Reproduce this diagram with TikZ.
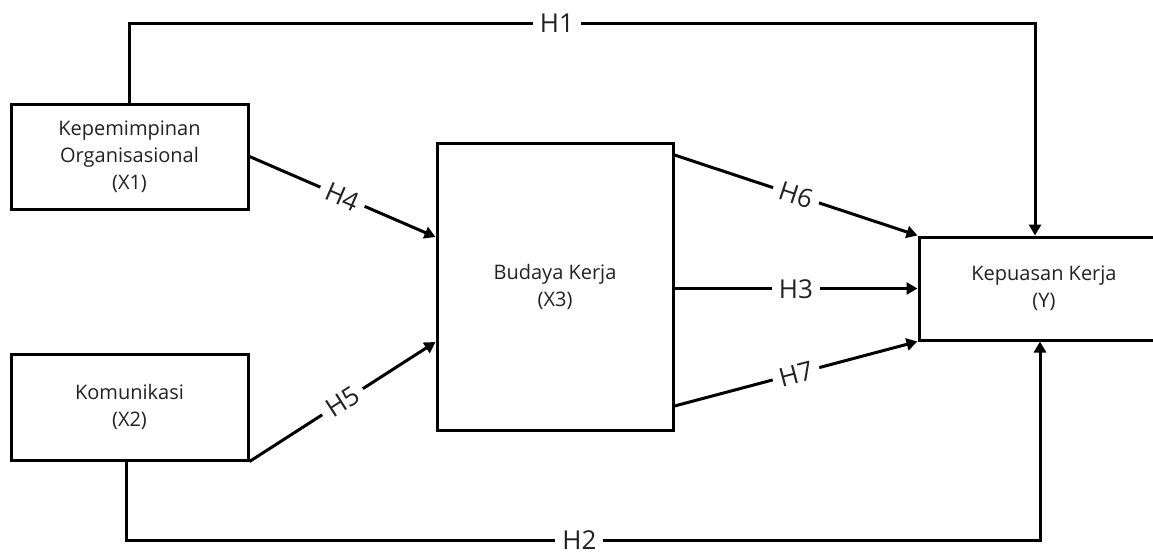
\documentclass[tikz,border=0pt]{standalone}
\usepackage{fontspec}
\setmainfont{Open Sans}
\usetikzlibrary{arrows.meta}
\definecolor{txt}{HTML}{222222}
\begin{document}
\begin{tikzpicture}[x=1pt,y=-1pt,
  box/.style={draw=black,line width=3pt,fill=white,align=center,text=txt,
    font=\fontsize{20}{27}\selectfont,inner sep=0pt},
  conn/.style={line width=3pt,draw=black},
  arr/.style={conn,-{Triangle[length=11pt,width=12pt]}},
  hlab/.style={fill=white,font=\fontsize{26}{30}\selectfont,text=txt,inner xsep=7pt,inner ysep=0pt,
    text height=19pt,text depth=0pt}]
\useasboundingbox (0,0) rectangle (1153,552);
\clip (0,0) rectangle (1153,552);
\fill[white] (0,0) rectangle (1153,552);
\node[box,minimum width=237pt,minimum height=105pt] (X1) at (129.5,156.5) {Kepemimpinan\\Organisasional\\(X1)};
\node[box,minimum width=237pt,minimum height=106pt] (X2) at (129.5,407) {Komunikasi\\(X2)};
\node[box,minimum width=236pt,minimum height=287pt] (X3) at (555,286.5) {Budaya Kerja\\(X3)};
\node[box,minimum width=250pt,minimum height=103pt] (Y) at (1044,288.5) {Kepuasan Kerja\\(Y)};
% H1
\coordinate (h1a) at (129.5,23);
\coordinate (h1b) at (1035,23);
\draw[arr] (X1.north) -- (h1a) -- node[hlab,pos=0.472]{H1} (h1b) -- ([xshift=-9pt]Y.north);
% H2
\coordinate (h2a) at (126,540);
\coordinate (h2b) at (1040,540);
\draw[arr] ([xshift=-3.5pt]X2.south) -- (h2a) -- node[hlab,pos=0.496]{H2} (h2b) -- ([xshift=-4pt]Y.south);
% H4, H5
\draw[arr] (X1.east) -- node[hlab,sloped,pos=0.5]{H4} ([yshift=49.5pt]X3.west);
\draw[arr] (X2.south east) -- node[hlab,sloped,pos=0.5]{H5} ([yshift=-55.5pt]X3.west);
% H6, H3, H7
\draw[arr] ([yshift=131.5pt]X3.east) -- node[hlab,sloped,pos=0.5]{H6} (Y.north west);
\draw[arr] (X3.east |- Y.west) -- node[hlab,pos=0.5]{H3} (Y.west);
\draw[arr] ([yshift=-119.5pt]X3.east) -- node[hlab,sloped,pos=0.5]{H7} (Y.south west);
\end{tikzpicture}
\end{document}
